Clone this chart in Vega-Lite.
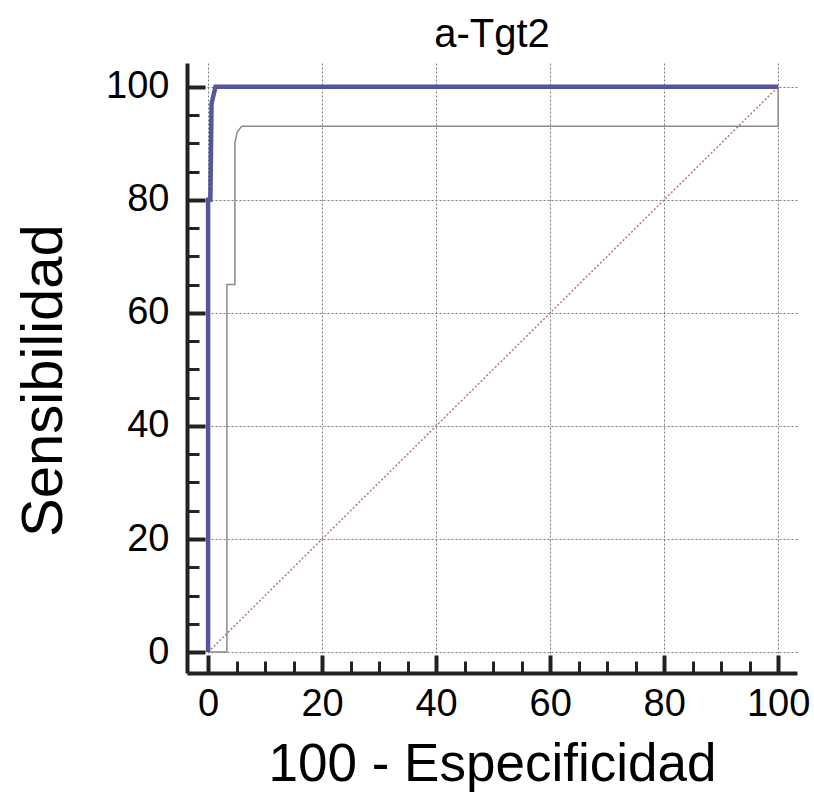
{
  "$schema": "https://vega.github.io/schema/vega-lite/v6.json",
  "width": 610,
  "height": 610,
  "autosize": "none",
  "padding": {"left": 187, "top": 63, "right": 17, "bottom": 135},
  "background": "white",
  "title": {"text": "a-Tgt2", "fontSize": 40, "font": "Liberation Sans", "fontWeight": "normal", "color": "black", "offset": 8, "anchor": "middle"},
  "config": {
    "view": {"stroke": null},
    "axis": {"labelFont": "Liberation Sans", "titleFont": "Liberation Sans", "labelColor": "black", "titleColor": "black", "titleFontWeight": "normal"}
  },
  "datasets": {
    "curves": [
      {"series": "diag", "i": 0, "x": 0, "y": 0},
      {"series": "diag", "i": 1, "x": 100, "y": 100},
      {"series": "lower", "i": 0, "x": 0, "y": 0},
      {"series": "lower", "i": 1, "x": 3.3, "y": 0},
      {"series": "lower", "i": 2, "x": 3.3, "y": 65},
      {"series": "lower", "i": 3, "x": 4.7, "y": 65},
      {"series": "lower", "i": 4, "x": 4.7, "y": 90},
      {"series": "lower", "i": 5, "x": 5.1, "y": 92},
      {"series": "lower", "i": 6, "x": 5.9, "y": 93},
      {"series": "lower", "i": 7, "x": 100, "y": 93},
      {"series": "lower", "i": 8, "x": 100, "y": 100},
      {"series": "roc", "i": 0, "x": 0, "y": 0},
      {"series": "roc", "i": 1, "x": 0, "y": 80},
      {"series": "roc", "i": 2, "x": 0.4, "y": 80},
      {"series": "roc", "i": 3, "x": 0.6, "y": 97},
      {"series": "roc", "i": 4, "x": 1.3, "y": 100},
      {"series": "roc", "i": 5, "x": 100, "y": 100}
    ],
    "minor": [{"v": 0}]
  },
  "resolve": {"axis": {"x": "independent", "y": "independent"}},
  "layer": [
    {
      "data": {"name": "minor"},
      "mark": {"type": "point", "opacity": 0},
      "encoding": {
        "x": {"field": "v", "type": "quantitative", "scale": {"domain": [-3.7, 103.3], "nice": false, "zero": false},
          "axis": {"orient": "bottom", "values": [5,10,15,25,30,35,45,50,55,65,70,75,85,90,95], "labels": false, "grid": false, "domain": false, "tickSize": -12, "tickWidth": 3, "tickColor": "#222", "title": null}},
        "y": {"field": "v", "type": "quantitative", "scale": {"domain": [-3.7, 104.2], "nice": false, "zero": false},
          "axis": {"orient": "left", "values": [5,10,15,25,30,35,45,50,55,65,70,75,85,90,95], "labels": false, "grid": false, "domain": false, "tickSize": -12, "tickWidth": 3, "tickColor": "#222", "title": null}}
      }
    },
    {
      "data": {"name": "curves"},
      "transform": [{"filter": "datum.series === 'diag'"}],
      "mark": {"type": "line", "color": "#b07a7a", "strokeWidth": 1.5, "strokeDash": [2, 2]},
      "encoding": {
        "x": {"field": "x", "type": "quantitative",
          "axis": {"orient": "bottom", "values": [0,20,40,60,80,100], "grid": true, "gridColor": "#7a7a7a", "gridDash": [2, 2], "gridWidth": 1, "domain": true, "domainColor": "#222", "domainWidth": 4, "tickSize": -18, "tickWidth": 4, "tickColor": "#222", "labelFontSize": 38, "labelPadding": 30, "title": "100 - Especificidad", "titleFontSize": 53, "titlePadding": 15}},
        "y": {"field": "y", "type": "quantitative",
          "axis": {"orient": "left", "values": [0,20,40,60,80,100], "grid": true, "gridColor": "#7a7a7a", "gridDash": [2, 2], "gridWidth": 1, "domain": true, "domainColor": "#222", "domainWidth": 4, "tickSize": -18, "tickWidth": 4, "tickColor": "#222", "labelFontSize": 38, "labelPadding": 36, "title": "Sensibilidad", "titleFontSize": 58, "titlePadding": 32, "titleY": 317}},
        "order": {"field": "i", "type": "quantitative"}
      }
    },
    {
      "data": {"name": "curves"},
      "transform": [{"filter": "datum.series === 'lower'"}],
      "mark": {"type": "line", "color": "#8a8a8a", "strokeWidth": 1.5},
      "encoding": {
        "x": {"field": "x", "type": "quantitative", "axis": null},
        "y": {"field": "y", "type": "quantitative", "axis": null},
        "order": {"field": "i", "type": "quantitative"}
      }
    },
    {
      "data": {"name": "curves"},
      "transform": [{"filter": "datum.series === 'roc'"}],
      "mark": {"type": "line", "color": "#55559a", "strokeWidth": 4.5},
      "encoding": {
        "x": {"field": "x", "type": "quantitative", "axis": null},
        "y": {"field": "y", "type": "quantitative", "axis": null},
        "order": {"field": "i", "type": "quantitative"}
      }
    }
  ]
}
